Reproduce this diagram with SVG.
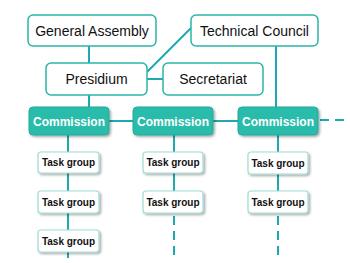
<svg xmlns="http://www.w3.org/2000/svg" width="350" height="263" viewBox="0 0 350 263">
<defs>
<filter id="sh" x="-10%" y="-10%" width="130%" height="140%">
<feDropShadow dx="1.5" dy="1.5" stdDeviation="0.8" flood-color="#000" flood-opacity="0.35"/>
</filter>
<style>
.ln{stroke:#1ea8b0;stroke-width:2;fill:none}
.dash{stroke:#1ea8b0;stroke-width:2;fill:none;stroke-dasharray:9 6}
.top rect{fill:#fff;stroke:#2bb5a9;stroke-width:1.5}
.top text{font-family:"Liberation Sans",Arial,sans-serif;font-size:14px;fill:#111;text-anchor:middle}
.com rect{fill:#2bbcab;stroke:#26a99a;stroke-width:1;filter:url(#sh)}
.com text{font-family:"Liberation Sans",Arial,sans-serif;font-size:12px;font-weight:bold;fill:#fff;text-anchor:middle}
.tg rect{fill:#fff;stroke:#9fdcd5;stroke-width:1.2;filter:url(#sh)}
.tg text{font-family:"Liberation Sans",Arial,sans-serif;font-size:10px;font-weight:bold;fill:#111;text-anchor:middle}
</style>
</defs>
<g id="connectors">
<line class="ln" x1="89" y1="46" x2="89" y2="63"/>
<line class="ln" x1="89" y1="95" x2="89" y2="107"/>
<line class="ln" x1="147" y1="79" x2="163" y2="79"/>
<line class="ln" x1="147" y1="72" x2="191" y2="28"/>
<line class="ln" x1="276" y1="46" x2="276" y2="107"/>
<line class="ln" x1="109" y1="121" x2="133" y2="121"/>
<line class="ln" x1="213" y1="121" x2="238" y2="121"/>
<line class="dash" x1="320" y1="120" x2="350" y2="120"/>
<line class="ln" x1="68" y1="135" x2="68" y2="258"/>
<line class="ln" x1="174" y1="135" x2="174" y2="213"/>
<line class="dash" x1="174" y1="216" x2="174" y2="258"/>
<line class="ln" x1="278" y1="135" x2="278" y2="213"/>
<line class="dash" x1="278" y1="216" x2="278" y2="258"/>
</g>
<g id="general-assembly" class="top"><rect x="28" y="15" width="128" height="31" rx="5"/><text x="92" y="35.5">General Assembly</text></g>
<g id="technical-council" class="top"><rect x="191" y="15" width="127" height="31" rx="5"/><text x="254.5" y="35.5">Technical Council</text></g>
<g id="presidium" class="top"><rect x="46" y="63" width="101" height="32" rx="5"/><text x="96.5" y="84">Presidium</text></g>
<g id="secretariat" class="top"><rect x="163" y="63" width="100" height="32" rx="5"/><text x="213" y="84">Secretariat</text></g>
<g id="commission-1" class="com"><rect x="29" y="107" width="80" height="28" rx="4"/><text x="69" y="125.5">Commission</text></g>
<g id="commission-2" class="com"><rect x="133" y="107" width="80" height="28" rx="4"/><text x="173" y="125.5">Commission</text></g>
<g id="commission-3" class="com"><rect x="238" y="107" width="80" height="28" rx="4"/><text x="278" y="125.5">Commission</text></g>
<g id="task-1-1" class="tg"><rect x="38" y="152" width="61" height="21" rx="3"/><text x="68.5" y="166">Task group</text></g>
<g id="task-1-2" class="tg"><rect x="38" y="191" width="61" height="22" rx="3"/><text x="68.5" y="205.5">Task group</text></g>
<g id="task-1-3" class="tg"><rect x="38" y="230" width="61" height="22" rx="3"/><text x="68.5" y="244.5">Task group</text></g>
<g id="task-2-1" class="tg"><rect x="143" y="152" width="60" height="21" rx="3"/><text x="173" y="166">Task group</text></g>
<g id="task-2-2" class="tg"><rect x="143" y="191" width="60" height="22" rx="3"/><text x="173" y="205.5">Task group</text></g>
<g id="task-3-1" class="tg"><rect x="248" y="152" width="60" height="22" rx="3"/><text x="278" y="166.5">Task group</text></g>
<g id="task-3-2" class="tg"><rect x="248" y="191" width="60" height="22" rx="3"/><text x="278" y="205.5">Task group</text></g>
</svg>
